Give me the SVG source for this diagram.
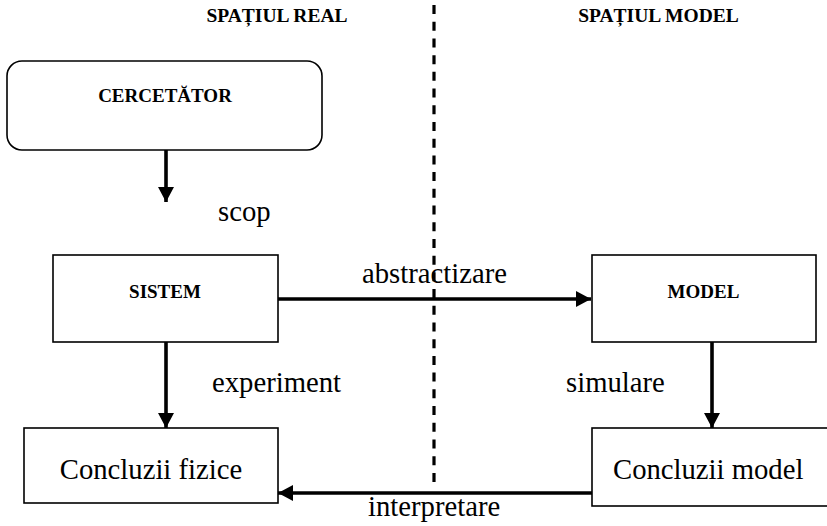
<svg xmlns="http://www.w3.org/2000/svg" width="827" height="526" viewBox="0 0 827 526">
  <style>
    .box { fill: #fff; stroke: #000; stroke-width: 1.6; }
    .title { font-family: "Liberation Serif", "Times New Roman", serif; font-weight: bold; font-size: 19px; fill: #000; }
    .heading { font-family: "Liberation Serif", "Times New Roman", serif; font-weight: bold; font-size: 19.5px; fill: #000; }
    .label { font-family: "Liberation Serif", "Times New Roman", serif; font-size: 28.7px; fill: #000; }
    .edge { fill: none; stroke: #000; stroke-width: 3.6; }
    .divider { fill: none; stroke: #000; stroke-width: 3.2; stroke-dasharray: 9 7.71; }
  </style>
  <defs>
    <marker id="arrow" viewBox="0 0 15 16" refX="15" refY="8" markerWidth="15" markerHeight="16" markerUnits="userSpaceOnUse" orient="auto">
      <path d="M0,0 L15,8 L0,16 Z" fill="#000"/>
    </marker>
  </defs>

  <!-- region headings -->
  <text class="heading" x="277" y="22" text-anchor="middle">SPAȚIUL REAL</text>
  <text class="heading" x="658.5" y="22" text-anchor="middle">SPAȚIUL MODEL</text>

  <!-- nodes -->
  <g id="cercetator">
    <rect class="box" x="7" y="61" width="315" height="89" rx="15" ry="15"/>
    <text class="title" x="165" y="102" text-anchor="middle">CERCETĂTOR</text>
  </g>
  <g id="sistem">
    <rect class="box" x="53" y="255" width="225" height="87"/>
    <text class="title" x="165" y="297.5" text-anchor="middle">SISTEM</text>
  </g>
  <g id="model">
    <rect class="box" x="592" y="255" width="224" height="87"/>
    <text class="title" x="703.5" y="297.5" text-anchor="middle">MODEL</text>
  </g>
  <g id="concluzii-fizice">
    <rect class="box" x="24" y="428" width="254" height="75"/>
    <text class="label" x="151" y="479" text-anchor="middle">Concluzii fizice</text>
  </g>
  <g id="concluzii-model">
    <rect class="box" x="592" y="428" width="250" height="78"/>
    <text class="label" x="613" y="479">Concluzii model</text>
  </g>

  <!-- connectors and their labels -->
  <g id="connectors">
    <line class="edge" x1="166" y1="150" x2="166" y2="202" marker-end="url(#arrow)"/>
    <text class="label" x="218" y="221">scop</text>

    <line class="edge" x1="278" y1="299" x2="591" y2="299" marker-end="url(#arrow)"/>
    <text class="label" x="362" y="283">abstractizare</text>

    <line class="edge" x1="166" y1="342" x2="166" y2="428" marker-end="url(#arrow)"/>
    <text class="label" x="212" y="392">experiment</text>

    <line class="edge" x1="712" y1="342" x2="712" y2="428" marker-end="url(#arrow)"/>
    <text class="label" x="566" y="392">simulare</text>

    <line class="edge" x1="592" y1="493" x2="278" y2="493" marker-end="url(#arrow)"/>
    <text class="label" x="368" y="516">interpretare</text>
  </g>

  <!-- boundary between the real space and the model space -->
  <line class="divider" x1="434" y1="5" x2="434" y2="482"/>
</svg>
